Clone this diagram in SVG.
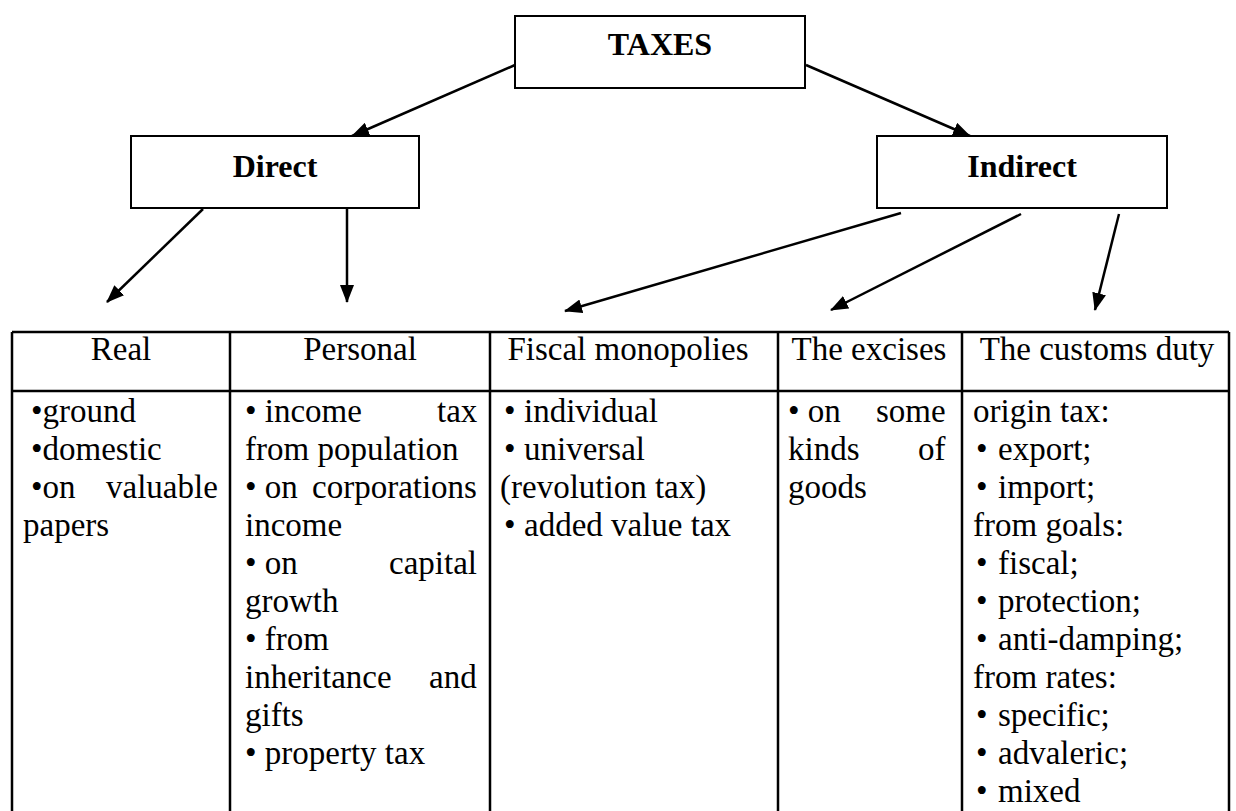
<svg xmlns="http://www.w3.org/2000/svg" width="1236" height="811" viewBox="0 0 1236 811">
<style>
.box{fill:#fff;stroke:#000;stroke-width:2}
.bt{font-family:"Liberation Serif",serif;font-weight:bold;font-size:32px;text-anchor:middle;fill:#000}
.t{font-family:"Liberation Serif",serif;font-size:33px;fill:#000}
.h{font-family:"Liberation Serif",serif;font-size:33px;fill:#000;text-anchor:middle}
.grid{stroke:#000;stroke-width:2.5;fill:none}
.arr{stroke:#000;stroke-width:2.5;fill:none;marker-end:url(#ah)}
</style>
<defs>
<marker id="ah" markerUnits="userSpaceOnUse" markerWidth="18" markerHeight="14" refX="17" refY="7" orient="auto">
<path d="M0,0 L18,7 L0,14 Z" fill="#000"/>
</marker>
</defs>
<rect width="1236" height="811" fill="#fff"/>
<g id="connectors">
<line class="arr" x1="515" y1="65" x2="352" y2="136"/>
<line class="arr" x1="806" y1="65" x2="970" y2="136"/>
<line class="arr" x1="203" y1="209" x2="107" y2="302"/>
<line class="arr" x1="347" y1="209" x2="347" y2="302"/>
<line class="arr" x1="901" y1="213" x2="565" y2="311"/>
<line class="arr" x1="1021" y1="214" x2="831" y2="310"/>
<line class="arr" x1="1119" y1="214" x2="1095" y2="310"/>
</g>
<g id="taxes">
<rect class="box" x="515" y="16" width="290" height="72"/>
<text class="bt" x="660" y="55">TAXES</text>
</g>
<g id="direct">
<rect class="box" x="131" y="136" width="288" height="72"/>
<text class="bt" x="275" y="177">Direct</text>
</g>
<g id="indirect">
<rect class="box" x="877" y="136" width="290" height="72"/>
<text class="bt" x="1022" y="177">Indirect</text>
</g>
<g id="table">
<path class="grid" d="M12,332 H1229 M12,391 H1229 M12,332 V811 M230,332 V811 M490,332 V811 M778,332 V811 M962,332 V811 M1229,332 V811"/>
<text class="h" x="121" y="360">Real</text>
<text class="h" x="360" y="360">Personal</text>
<text class="h" x="628" y="360">Fiscal monopolies</text>
<text class="h" x="869" y="360">The excises</text>
<text class="h" x="1097" y="360">The customs duty</text>
</g>
<g id="col-real">
<text class="t" x="31" y="422">•ground</text>
<text class="t" x="31" y="460">•domestic</text>
<text class="t" x="31" y="498">•on<tspan x="106">valuable</tspan></text>
<text class="t" x="23" y="536">papers</text>
</g>
<g id="col-personal">
<text class="t" x="245" y="422">• income<tspan x="437">tax</tspan></text>
<text class="t" x="245" y="460">from population</text>
<text class="t" x="245" y="498">• on<tspan x="312">corporations</tspan></text>
<text class="t" x="245" y="536">income</text>
<text class="t" x="245" y="574">• on<tspan x="389">capital</tspan></text>
<text class="t" x="245" y="612">growth</text>
<text class="t" x="245" y="650">• from</text>
<text class="t" x="245" y="688">inheritance<tspan x="429">and</tspan></text>
<text class="t" x="245" y="726">gifts</text>
<text class="t" x="245" y="764">• property tax</text>
</g>
<g id="col-fiscal">
<text class="t" x="504" y="422">•<tspan x="524">individual</tspan></text>
<text class="t" x="504" y="460">•<tspan x="524">universal</tspan></text>
<text class="t" x="500" y="498">(revolution tax)</text>
<text class="t" x="504" y="536">•<tspan x="524">added value tax</tspan></text>
</g>
<g id="col-excises">
<text class="t" x="788" y="422">• on<tspan x="876">some</tspan></text>
<text class="t" x="788" y="460">kinds<tspan x="918">of</tspan></text>
<text class="t" x="788" y="498">goods</text>
</g>
<g id="col-customs">
<text class="t" x="973" y="422">origin tax:</text>
<text class="t" x="976" y="460">•<tspan x="998">export;</tspan></text>
<text class="t" x="976" y="498">•<tspan x="998">import;</tspan></text>
<text class="t" x="973" y="536">from goals:</text>
<text class="t" x="976" y="574">•<tspan x="998">fiscal;</tspan></text>
<text class="t" x="976" y="612">•<tspan x="998">protection;</tspan></text>
<text class="t" x="976" y="650">•<tspan x="998">anti-damping;</tspan></text>
<text class="t" x="973" y="688">from rates:</text>
<text class="t" x="976" y="726">•<tspan x="998">specific;</tspan></text>
<text class="t" x="976" y="764">•<tspan x="998">advaleric;</tspan></text>
<text class="t" x="976" y="802">•<tspan x="998">mixed</tspan></text>
</g>
</svg>
